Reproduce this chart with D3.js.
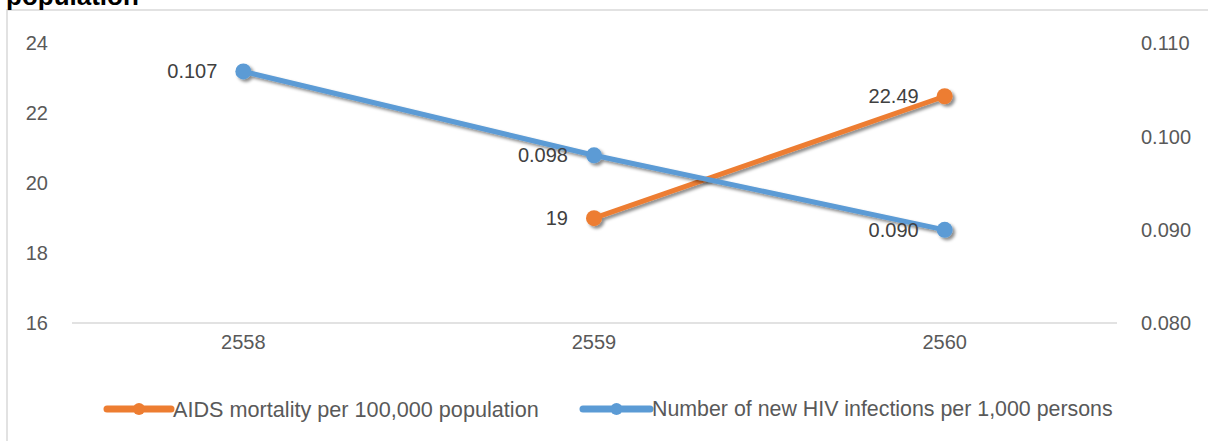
<!DOCTYPE html>
<html>
<head>
<meta charset="utf-8">
<script src="https://cdn.jsdelivr.net/npm/d3@7"></script>
<style>
  html, body { margin: 0; padding: 0; background: #fff; }
  svg { display: block; font-family: "Liberation Sans", Arial, sans-serif; }
</style>
</head>
<body>
<svg id="chart" width="1208" height="441"></svg>
<script>
// Years (Buddhist Era)
const years = ["2558", "2559", "2560"];
// AIDS mortality per 100,000 population (left axis)
const mortality = [null, 19, 22.49];
const mortalityLabels = ["", "19", "22.49"];
// New HIV infections per 1,000 persons (right axis)
const infections = [0.107, 0.098, 0.090];
const infectionLabels = ["0.107", "0.098", "0.090"];
// Axis ticks
const leftTicks = [16, 18, 20, 22, 24];
const rightTicks = [0.080, 0.090, 0.100, 0.110];
const seriesNames = ["AIDS mortality per 100,000 population", "Number of new HIV infections per 1,000 persons"];

const orange = "#ED7D31", blue = "#5B9BD5";
const svg = d3.select("#chart");

// drop shadow for lines and markers
const defs = svg.append("defs");
const f = defs.append("filter").attr("id", "shadow")
  .attr("x", "-20%").attr("y", "-20%").attr("width", "140%").attr("height", "140%");
f.append("feDropShadow").attr("dx", 2.5).attr("dy", 2.5).attr("stdDeviation", 1.8)
  .attr("flood-color", "#000").attr("flood-opacity", 0.45);

// chart frame
svg.append("rect").attr("x", 7).attr("y", 10).attr("width", 1300).attr("height", 600)
  .attr("fill", "#fff").attr("stroke", "#D9D9D9").attr("stroke-width", 1.5);

// title; its upper part runs past the top edge
svg.append("text").attr("x", 6).attr("y", 5)
  .style("font-size", "26px").style("font-weight", "bold").attr("fill", "#000")
  .text("population");

const x = d3.scaleBand().domain(years).range([68, 1120]);
const yL = d3.scaleLinear().domain([16, 24]).range([323, 43.5]);
const yR = d3.scaleLinear().domain([0.080, 0.110]).range([323, 43.5]);
const cx = d => x(d) + x.bandwidth() / 2;

// baseline
svg.append("line").attr("x1", 72).attr("x2", 1117).attr("y1", yL(16)).attr("y2", yL(16))
  .attr("stroke", "#D9D9D9").attr("stroke-width", 1.5);

// left axis
const gl = svg.append("g").attr("transform", "translate(48,0)")
  .call(d3.axisLeft(yL).tickValues(leftTicks).tickSize(0).tickPadding(0).tickFormat(d3.format("d")));
// right axis
const gr = svg.append("g").attr("transform", "translate(1141,0)")
  .call(d3.axisRight(yR).tickValues(rightTicks).tickSize(0).tickPadding(0).tickFormat(d3.format(".3f")));
// category axis
const gb = svg.append("g").attr("transform", "translate(0,335)")
  .call(d3.axisBottom(x).tickSize(0).tickPadding(0));
[gl, gr, gb].forEach(g => {
  g.select(".domain").remove();
  g.selectAll("text").attr("font-size", 20).attr("fill", "#595959")
    .attr("font-family", "'Liberation Sans', Arial, sans-serif");
});
gb.selectAll("text").attr("dy", "0.71em");

// series
function drawSeries(values, scale, color, labels) {
  const pts = years.map((d, i) => ({ year: d, v: values[i], label: labels[i] })).filter(p => p.v != null);
  const g = svg.append("g").attr("filter", "url(#shadow)");
  g.append("path").datum(pts)
    .attr("d", d3.line().x(p => cx(p.year)).y(p => scale(p.v)))
    .attr("fill", "none").attr("stroke", color).attr("stroke-width", 5)
    .attr("stroke-linejoin", "round").attr("stroke-linecap", "round");
  g.selectAll("circle").data(pts).join("circle")
    .attr("cx", p => cx(p.year)).attr("cy", p => scale(p.v)).attr("r", 8)
    .attr("fill", color);
  return pts;
}
const mPts = drawSeries(mortality, yL, orange, mortalityLabels);
const iPts = drawSeries(infections, yR, blue, infectionLabels);

// data labels, placed to the left of each point
function drawLabels(pts, scale) {
  svg.append("g").selectAll("text").data(pts).join("text")
    .attr("x", p => cx(p.year) - 26).attr("y", p => scale(p.v))
    .attr("dy", "0.35em").attr("text-anchor", "end")
    .attr("font-size", 20).attr("fill", "#404040")
    .text(p => p.label);
}
drawLabels(mPts, yL);
drawLabels(iPts, yR);

// legend
const legendY = 409;
const legend = [
  { name: seriesNames[0], color: orange, x0: 107, x1: 171, tw: 366 },
  { name: seriesNames[1], color: blue, x0: 583, x1: 650, tw: 461 }
];
legend.forEach(l => {
  const g = svg.append("g");
  g.append("line").attr("x1", l.x0).attr("x2", l.x1).attr("y1", legendY).attr("y2", legendY)
    .attr("stroke", l.color).attr("stroke-width", 7).attr("stroke-linecap", "round");
  g.append("circle").attr("cx", (l.x0 + l.x1) / 2).attr("cy", legendY).attr("r", 6).attr("fill", l.color);
  const t = g.append("text").attr("x", l.x1 + 2).attr("y", legendY).attr("dy", "0.35em")
    .attr("font-size", 19).attr("fill", "#595959").text(l.name);
  const w = t.node().getComputedTextLength();
  t.attr("font-size", 19 * l.tw / w);
});
</script>
</body>
</html>
